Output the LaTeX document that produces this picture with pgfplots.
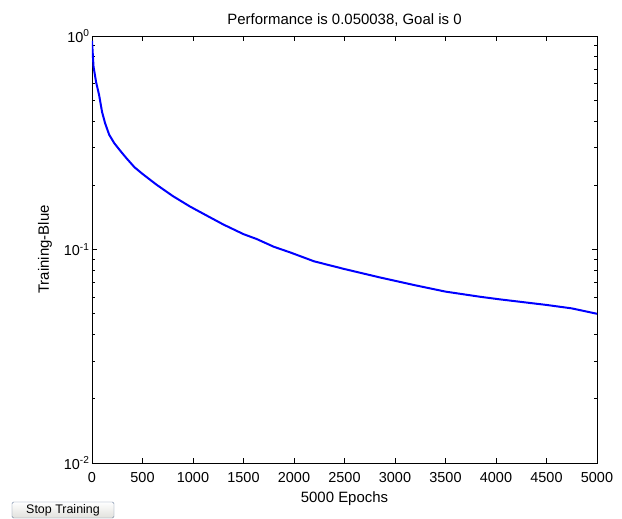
\documentclass[border=0pt]{standalone}
\usepackage{fontspec}
\setmainfont{Liberation Sans}
\usepackage{pgfplots}
\pgfplotsset{compat=1.18}
\usetikzlibrary{calc}

\pgfplotstableread{
x y
0 0.95
15 0.72
40 0.61
70 0.53
100 0.44
130 0.39
170 0.345
220 0.315
280 0.29
340 0.268
420 0.243
500 0.226
640 0.201
800 0.178
970 0.159
1150 0.143
1300 0.131
1500 0.118
1630 0.112
1800 0.103
1960 0.097
2200 0.088
2500 0.081
2850 0.074
3200 0.068
3500 0.0635
3850 0.060
4040 0.0584
4500 0.055
4750 0.053
5000 0.050
}\perf

\begin{document}
\begin{tikzpicture}[x=1bp,y=1bp]
\begin{axis}[
    name=ax,
    at={(0,0)}, anchor=south west,
    scale only axis,
    width=505bp, height=427bp,
    ymode=log,
    xmin=0, xmax=5000,
    ymin=0.01, ymax=1,
    xtick={0,500,...,5000},
    ytick={0.01,0.1,1},
    yticklabels={10\textsuperscript{-2},10\textsuperscript{-1},10\textsuperscript{0}},
    scaled x ticks=false,
    /pgf/number format/assume math mode=true,
    /pgf/number format/1000 sep={},
    tick label style={font=\fontsize{14.5}{16}\selectfont},
    xticklabel style={yshift=-6bp},
    yticklabel style={xshift=1bp},
    tick align=inside,
    major tick length=5bp,
    minor tick length=3bp,
    axis line style={line width=0.8bp},
    every tick/.style={black, line width=0.6bp},
    title={Performance is 0.050038, Goal is 0},
    title style={font=\fontsize{15}{17}\selectfont, yshift=0bp},
    xlabel={5000 Epochs},
    ylabel={Training-Blue},
    label style={font=\fontsize{15}{17}\selectfont},
    xlabel style={yshift=-2bp},
    ylabel style={yshift=5bp},
]
\addplot[color={rgb,255:red,0;green,0;blue,255}, line width=2bp] table[x=x,y=y] {\perf};
\end{axis}
\node[draw={rgb,255:red,110;green,130;blue,160}, rounded corners=1.5bp,
      top color=white, bottom color={rgb,255:red,225;green,225;blue,220},
      minimum width=102bp, minimum height=16bp, inner sep=0pt,
      font=\fontsize{12.5}{14}\selectfont]
      at ($(ax.south west)+(-29bp,-47bp)$) {Stop Training};
\path[use as bounding box] ($(ax.south west)+(-92bp,-54bp)$) rectangle ($(ax.north east)+(25bp,36bp)$);
\end{tikzpicture}
\end{document}
